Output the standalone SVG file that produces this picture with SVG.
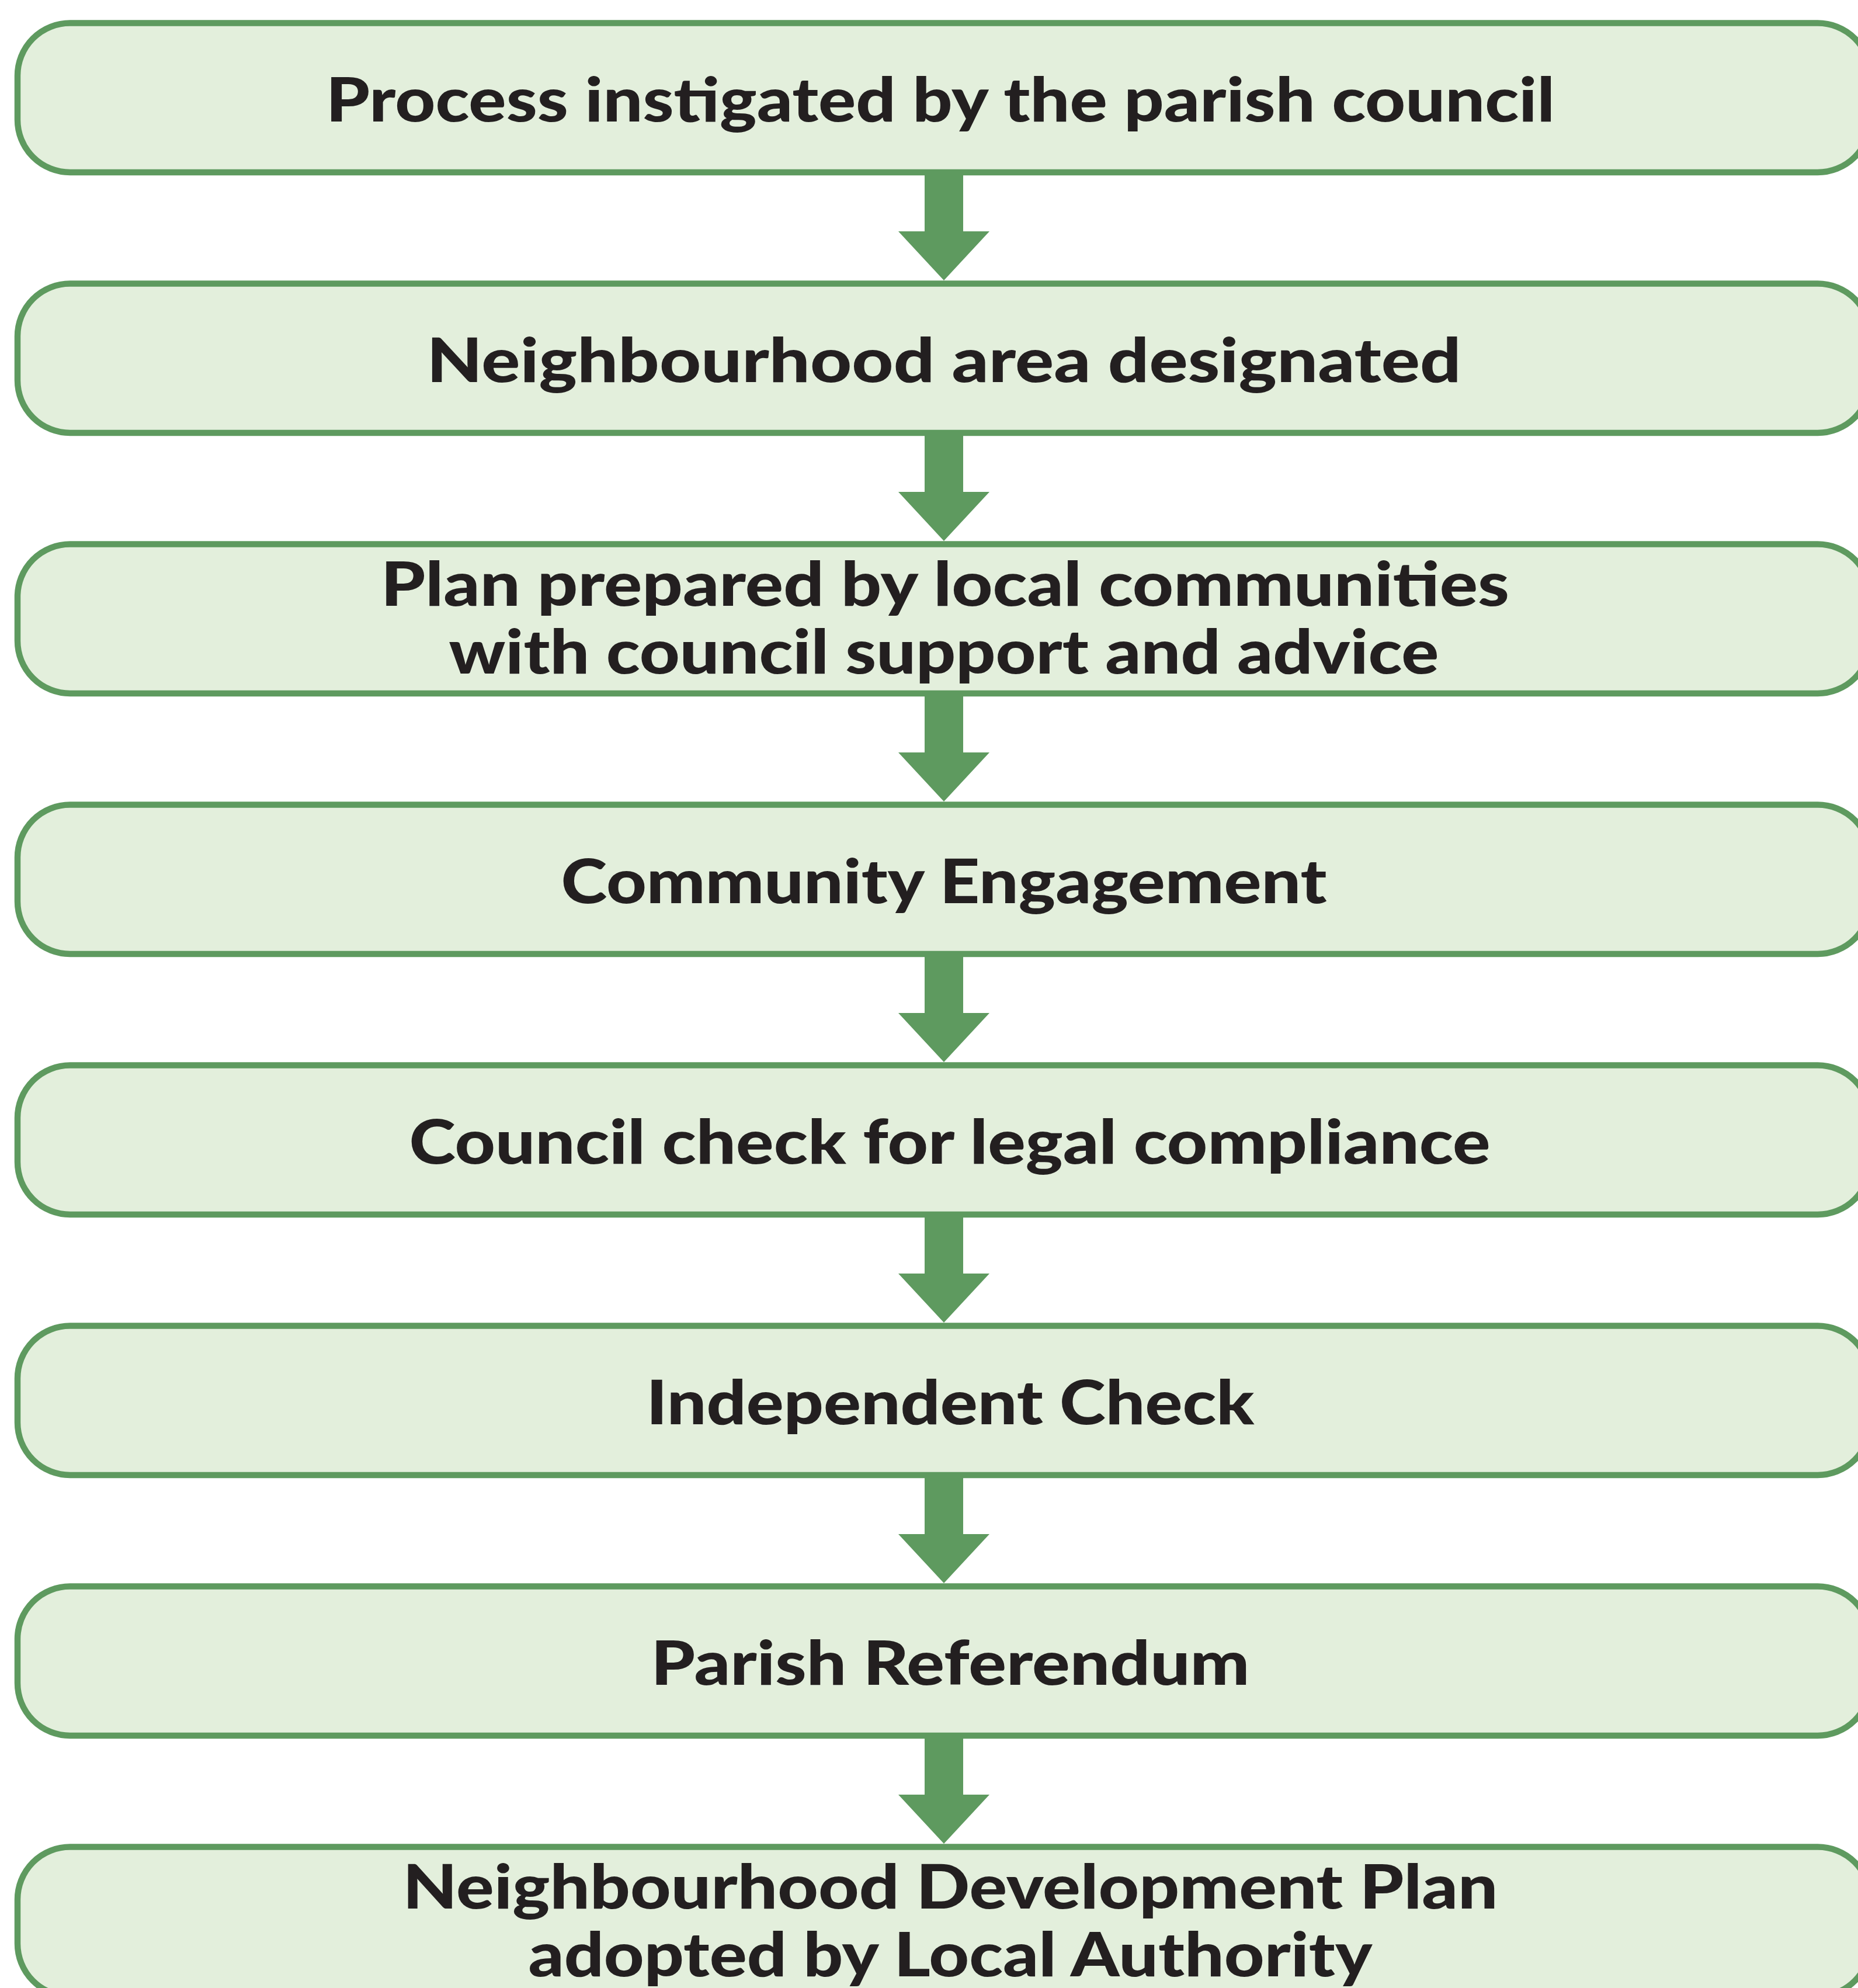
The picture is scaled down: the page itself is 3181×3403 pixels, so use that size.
<svg xmlns="http://www.w3.org/2000/svg" width="3181" height="3403" viewBox="0 0 3181 3403">
  <defs>
    <style>
      .step { fill: #E3EFDC; stroke: #5E9A5F; stroke-width: 10.5; }
      .label { font-family: Lato, "Noto Sans", "Liberation Sans", sans-serif; font-weight: 900; font-size: 105px; fill: #231F20; text-anchor: middle; }
      .flow { fill: #5E9A5F; }
    </style>
    <!-- downward block arrow, drawn from the bottom edge of one step to the top edge of the next -->
    <polygon id="down" class="flow" points="1583,0 1649,0 1649,101 1694,101 1616,185 1538,101 1583,101"/>
  </defs>
  <rect width="3181" height="3403" fill="#FFFFFF"/>

  <g id="nodes">
    <g id="step1">
      <rect class="step" x="30" y="39.5" width="3172" height="255.5" rx="90" ry="90"/>
      <text class="label" x="1610" y="208" textLength="2104" lengthAdjust="spacingAndGlyphs">Process instigated by the parish council</text>
    </g>
    <g id="step2">
      <rect class="step" x="30" y="485.5" width="3172" height="255.5" rx="90" ry="90"/>
      <text class="label" x="1616" y="654" textLength="1771" lengthAdjust="spacingAndGlyphs">Neighbourhood area designated</text>
    </g>
    <g id="step3">
      <rect class="step" x="30" y="931.5" width="3172" height="255.5" rx="90" ry="90"/>
      <text class="label" x="1618" y="1037" textLength="1932" lengthAdjust="spacingAndGlyphs">Plan prepared by local communities</text>
      <text class="label" x="1616" y="1153" textLength="1695" lengthAdjust="spacingAndGlyphs">with council support and advice</text>
    </g>
    <g id="step4">
      <rect class="step" x="30" y="1377.5" width="3172" height="255.5" rx="90" ry="90"/>
      <text class="label" x="1616" y="1546" textLength="1311" lengthAdjust="spacingAndGlyphs">Community Engagement</text>
    </g>
    <g id="step5">
      <rect class="step" x="30" y="1823.5" width="3172" height="255.5" rx="90" ry="90"/>
      <text class="label" x="1626" y="1992" textLength="1851" lengthAdjust="spacingAndGlyphs">Council check for legal compliance</text>
    </g>
    <g id="step6">
      <rect class="step" x="30" y="2269.5" width="3172" height="255.5" rx="90" ry="90"/>
      <text class="label" x="1627" y="2438" textLength="1041" lengthAdjust="spacingAndGlyphs">Independent Check</text>
    </g>
    <g id="step7">
      <rect class="step" x="30" y="2715.5" width="3172" height="255.5" rx="90" ry="90"/>
      <text class="label" x="1627" y="2884" textLength="1025" lengthAdjust="spacingAndGlyphs">Parish Referendum</text>
    </g>
    <g id="step8">
      <rect class="step" x="30" y="3161.5" width="3172" height="255.5" rx="90" ry="90"/>
      <text class="label" x="1627" y="3267" textLength="1875" lengthAdjust="spacingAndGlyphs">Neighbourhood Development Plan</text>
      <text class="label" x="1627" y="3383" textLength="1445" lengthAdjust="spacingAndGlyphs">adopted by Local Authority</text>
    </g>
  </g>

  <g id="connectors">
    <use href="#down" y="295"/>
    <use href="#down" y="741"/>
    <use href="#down" y="1187"/>
    <use href="#down" y="1633"/>
    <use href="#down" y="2079"/>
    <use href="#down" y="2525"/>
    <use href="#down" y="2971"/>
  </g>
</svg>
